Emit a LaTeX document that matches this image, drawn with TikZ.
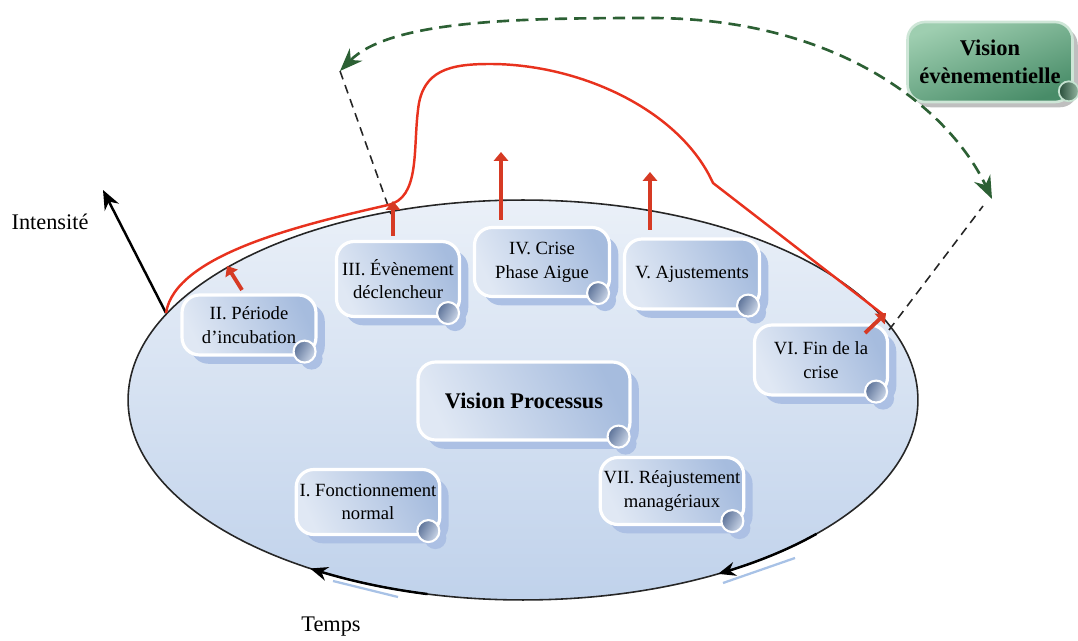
\documentclass[tikz,border=0pt]{standalone}
\usepackage{fontspec}
\setmainfont{Liberation Serif}
\usetikzlibrary{arrows.meta,shadows,calc,shapes.geometric}
\definecolor{ellTop}{RGB}{234,240,248}
\definecolor{ellBot}{RGB}{192,210,235}
\definecolor{boxLight}{RGB}{224,232,244}
\definecolor{boxDark}{RGB}{166,188,222}
\definecolor{shadowBlue}{RGB}{172,192,228}
\definecolor{knobDark}{RGB}{92,114,152}
\definecolor{knobLight}{RGB}{205,216,234}
\definecolor{greenLight}{RGB}{158,206,176}
\definecolor{greenDark}{RGB}{72,140,104}
\definecolor{greenArrow}{RGB}{44,96,52}
\definecolor{redLine}{RGB}{232,50,30}
\definecolor{redArrow}{RGB}{214,58,36}
\definecolor{timeBlue}{RGB}{168,194,230}
\begin{document}
\begin{tikzpicture}[x=0.02cm,y=-0.02cm,
  phasebox/.style={rounded corners=10pt, draw=white, line width=1.8pt,
    left color=boxLight, right color=boxDark, shading angle=115,
    general shadow={fill=shadowBlue, shadow xshift=5pt, shadow yshift=-5pt},
    align=center, font=\fontsize{10.6}{13.5}\selectfont, inner sep=2pt},
  knob/.style={circle, minimum size=0.44cm, inner sep=0pt, draw=white, line width=1.2pt,
    left color=knobDark, right color=knobLight, shading angle=60,
    general shadow={fill=shadowBlue, shadow xshift=4pt, shadow yshift=-4pt}},
  redup/.style={draw=redArrow, line width=2.2pt, -{Triangle[length=5pt,width=8pt]}},
  blackdash/.style={draw=black!85, line width=0.9pt, dash pattern=on 5pt off 3.5pt},
  greendash/.style={draw=greenArrow, line width=1.5pt, dash pattern=on 7pt off 4pt,
    {Stealth[length=13pt,width=10pt]}-{Stealth[length=13pt,width=10pt]}},
  timearrow/.style={draw=black, line width=1.4pt, -{Stealth[length=10pt,width=8pt]}},
  lbl/.style={font=\fontsize{12.7}{15}\selectfont, inner sep=0pt}]
\useasboundingbox (0,0) rectangle (1078,641);

% process ellipse
\node[ellipse, draw=black!85, line width=0.9pt, top color=ellTop, bottom color=ellBot,
  minimum width=15.8cm, minimum height=8cm, inner sep=0pt] (proc) at (523,400) {};

% time arrows along the ellipse
\draw[timeBlue, line width=1.3pt] (333,581) -- (398,597);
\draw[timeBlue, line width=1.3pt] (723,583) -- (795,558);
\draw[timearrow] plot[domain=104:122.6, samples=25] ({523+395*cos(\x)},{400+200*sin(\x)});
\draw[timearrow] plot[domain=42:60.4, samples=25] ({523+395*cos(\x)},{400+200*sin(\x)});

% phases
\node[phasebox, minimum width=2.68cm, minimum height=1.2cm] (p2) at (249,325) {II. Période\\d’incubation};
\node[phasebox, minimum width=2.46cm, minimum height=1.5cm] (p3) at (398,279) {III. Évènement\\déclencheur};
\node[phasebox, minimum width=2.7cm, minimum height=1.38cm] (p4) at (542,262) {IV. Crise\\Phase Aigue};
\node[phasebox, minimum width=2.7cm, minimum height=1.4cm] (p5) at (692,274) {V. Ajustements};
\node[phasebox, minimum width=2.66cm, minimum height=1.4cm] (p6) at (821,360) {VI. Fin de la\\crise};
\node[phasebox, minimum width=4.24cm, minimum height=1.56cm,
  font=\bfseries\fontsize{12.7}{15}\selectfont] (vp) at (524,401) {Vision Processus};
\node[phasebox, minimum width=2.86cm, minimum height=1.3cm] (p1) at (368,502) {I. Fonctionnement\\normal};
\node[phasebox, minimum width=2.7cm, minimum height=1.34cm] (p7) at (672,491) {VII. Réajustement\\managériaux};

\foreach \b in {p1,p2,p3,p4,p5,p6,p7,vp}
  \node[knob] (k\b) at ($(\b.south east)+(-13,-5)$) {};

% event vision box
\node[rounded corners=10pt, draw=greenLight!50!white, line width=1.5pt,
  top color=greenLight, bottom color=greenDark, shading angle=20,
  general shadow={fill=black!25, shadow xshift=3pt, shadow yshift=-3pt},
  minimum width=3.3cm, minimum height=1.6cm, align=center,
  font=\bfseries\fontsize{12.8}{16}\selectfont] (ve) at (990,62) {Vision\\évènementielle};
\node[circle, minimum size=0.4cm, inner sep=0pt, draw=greenLight!60!white, line width=1pt,
  left color=black!45!greenDark, right color=greenLight!70!gray] (kve) at ($(ve.south east)+(-5,-12)$) {};

% axes labels
\coordinate (iA) at (166,313);
\coordinate (iB) at (103,190);
\draw[black, line width=1.4pt, -{Stealth[length=11pt,width=9pt]}] (iA) -- (iB);
\node[lbl] (int) at (50,222) {Intensité};
\node[lbl] (tps) at (331,627) {Temps};

% dashed black guides
\coordinate (gL) at (340,71);
\coordinate (gR) at (992,199);
\coordinate (dL) at (391,214);
\coordinate (dR) at (889,330);
\draw[blackdash] (gL) -- (dL);
\draw[blackdash] (dR) -- (983,206);

% green dashed arc
\draw[greendash] (gL) .. controls (390,20) and (520,18) .. (650,18)
  .. controls (840,18) and (950,110) .. (gR);

% red intensity curve
\coordinate (rS) at (166,313);
\coordinate (rE) at (885,316);
\draw[redLine, line width=1.4pt] (rS) .. controls (175,255) and (300,225) .. (388,205)
  .. controls (420,198) and (413,150) .. (418,110)
  .. controls (422,70) and (450,64) .. (490,64)
  .. controls (580,64) and (680,110) .. (713,183) -- (rE);

% red arrows
\coordinate (a2s) at (242,290); \coordinate (a2e) at (227,266);
\coordinate (a3s) at (393,236); \coordinate (a3e) at (393,201);
\coordinate (a4s) at (501,220); \coordinate (a4e) at (501,152);
\coordinate (a5s) at (650,230); \coordinate (a5e) at (650,172);
\coordinate (a6s) at (865,333); \coordinate (a6e) at (886,313);
\draw[redup] (a2s) -- (a2e);
\draw[redup] (a3s) -- (a3e);
\draw[redup] (a4s) -- (a4e);
\draw[redup] (a5s) -- (a5e);
\draw[redup] (a6s) -- (a6e);
\end{tikzpicture}
\end{document}
